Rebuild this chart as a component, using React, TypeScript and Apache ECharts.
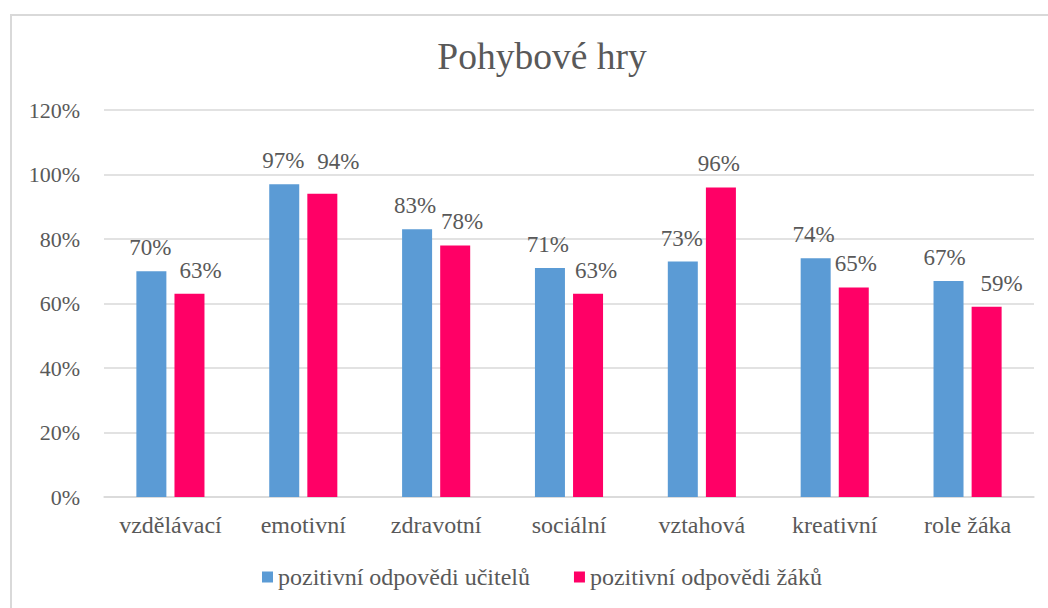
import React, { useEffect, useRef } from "react";
import * as echarts from "echarts";

const categories = ["vzdělávací", "emotivní", "zdravotní", "sociální", "vztahová", "kreativní", "role žáka"];
const teachers = [70, 97, 83, 71, 73, 74, 67];
const pupils = [63, 94, 78, 63, 96, 65, 59];
const seriesNames = ["pozitivní odpovědi učitelů", "pozitivní odpovědi žáků"];
const titleText = "Pohybové hry";

// label nudges (style only) that mimic the original's label placement
const pupilLabelOffsets = [[11, 0], [16, -9], [7, 0], [8, 0], [-2, 0], [2, 0], [15, 0]];
const teacherLabelOffsets = [[-1, 0], [-1, 0], [-2, 0], [-2, 0], [-1, 0], [-2, 0], [-4, 0]];

const FONT = "Liberation Serif";
const TEXT = "#595959";

export default function App() {
  const ref = useRef<HTMLDivElement>(null);
  useEffect(() => {
    if (!ref.current) return;
    const chart = echarts.init(ref.current, null, { renderer: "svg" });
    const label = {
      show: true,
      position: "top",
      distance: 12,
      formatter: "{c}%",
      color: TEXT,
      fontFamily: FONT,
      fontSize: 23,
    };
    chart.setOption({
      animation: false,
      textStyle: { fontFamily: FONT, color: TEXT },
      title: {
        text: titleText,
        left: 537,
        top: 32,
        textAlign: "center",
        textStyle: { fontFamily: FONT, fontSize: 37.5, fontWeight: "normal", color: TEXT },
      },
      legend: {
        data: seriesNames,
        left: 257,
        top: 560,
        itemWidth: 11,
        itemHeight: 11,
        itemGap: 44,
        icon: "rect",
        textStyle: { fontFamily: FONT, fontSize: 24, color: TEXT },
      },
      grid: { left: 104, right: 14, top: 110, bottom: 111, containLabel: false },
      xAxis: {
        type: "category",
        data: categories,
        axisLine: { lineStyle: { color: "#D9D9D9", width: 1.5 } },
        axisTick: { show: false },
        axisLabel: { color: TEXT, fontFamily: FONT, fontSize: 24, margin: 16, interval: 0 },
      },
      yAxis: {
        type: "value",
        min: 0,
        max: 120,
        interval: 20,
        axisLine: { show: false },
        axisTick: { show: false },
        splitLine: { lineStyle: { color: "#D9D9D9", width: 1.5 } },
        axisLabel: { formatter: "{value}%", color: TEXT, fontFamily: FONT, fontSize: 22, margin: 24 },
      },
      series: [
        {
          name: seriesNames[0],
          type: "bar",
          data: teachers.map((v, i) => ({ value: v, label: { offset: teacherLabelOffsets[i] } })),
          barWidth: 30,
          barGap: "27%",
          itemStyle: { color: "#5B9BD5" },
          label,
        },
        {
          name: seriesNames[1],
          type: "bar",
          data: pupils.map((v, i) => ({ value: v, label: { offset: pupilLabelOffsets[i] } })),
          barWidth: 30,
          itemStyle: { color: "#FF0066" },
          label,
        },
      ],
    });
    return () => chart.dispose();
  }, []);
  return (
    <div style={{ position: "fixed", left: 0, top: 0, width: 1048, height: 608, background: "#fff", overflow: "hidden" }}>
      <div
        style={{
          position: "absolute",
          left: 10,
          top: 14,
          width: 1100,
          height: 700,
          border: "2px solid #D9D9D9",
          boxSizing: "border-box",
        }}
      />
      <div ref={ref} style={{ position: "absolute", left: 0, top: 0, width: 1048, height: 608 }} />
    </div>
  );
}
